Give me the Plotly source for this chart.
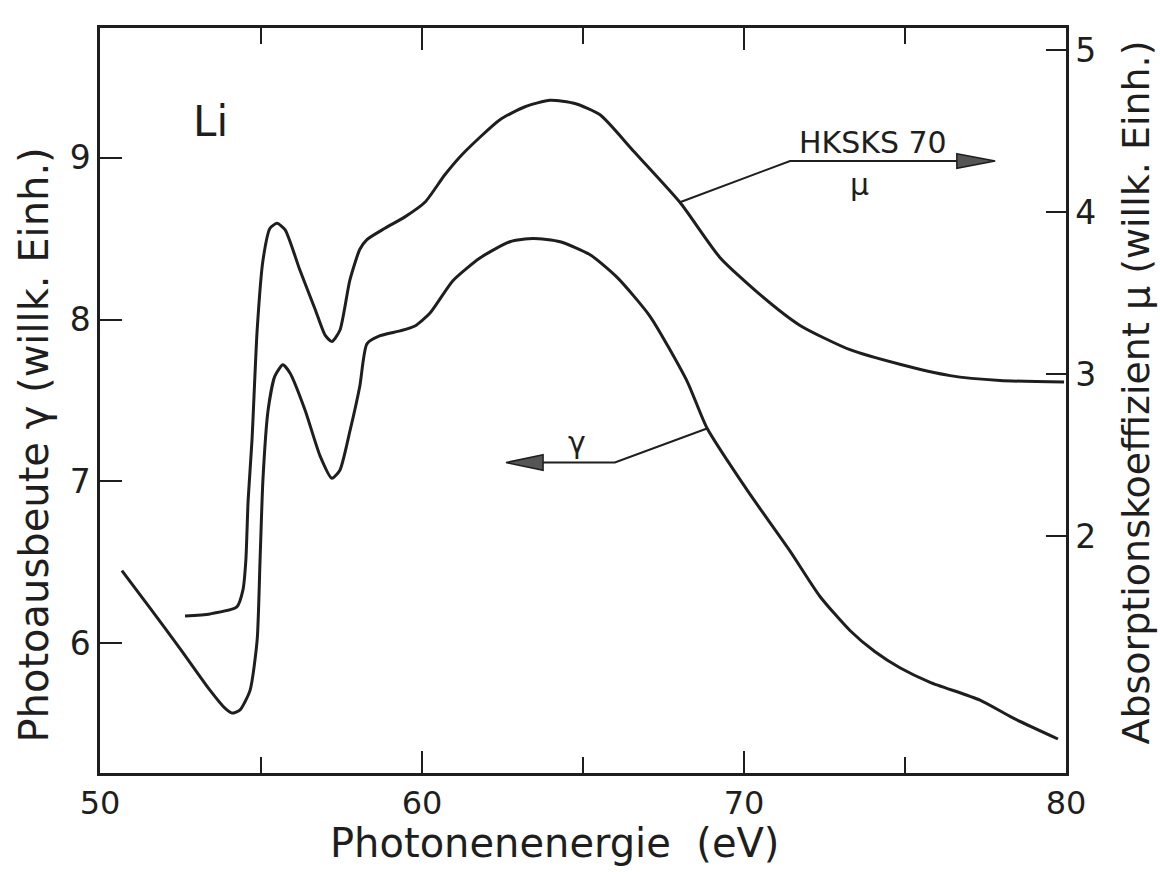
import plotly.graph_objects as go

# --- data ---
# Absorption coefficient mu (HKSKS 70), right axis
mu_energy = [52.64, 53.42, 54.25, 54.44, 54.53, 54.60, 54.72, 54.88, 55.06, 55.28, 55.50,
             55.75, 56.21, 56.68, 56.99, 57.20, 57.45, 57.76, 58.07, 58.29, 58.85, 59.47,
             60.09, 60.71, 61.27, 62.42, 63.20, 63.98, 64.75, 65.53, 66.55, 68.01, 69.25,
             70.50, 71.74, 73.29, 74.84, 76.40, 77.95, 79.94]
mu_values = [1.506, 1.519, 1.562, 1.667, 1.852, 2.22, 2.59, 3.27, 3.70, 3.90, 3.93,
             3.89, 3.64, 3.40, 3.24, 3.20, 3.27, 3.58, 3.77, 3.83, 3.90, 3.97,
             4.06, 4.23, 4.36, 4.57, 4.65, 4.69, 4.67, 4.60, 4.38, 4.06, 3.72,
             3.49, 3.30, 3.15, 3.06, 2.99, 2.96, 2.95]

# Photo yield gamma, left axis
gamma_energy = [50.68, 51.55, 52.48, 53.42, 53.88, 54.10, 54.35, 54.66, 54.88, 54.97, 55.06,
                55.22, 55.43, 55.68, 55.90, 56.37, 56.83, 57.20, 57.45, 57.76, 58.07, 58.29,
                58.70, 59.32, 59.78, 60.25, 60.96, 61.80, 62.73, 63.45, 64.29, 65.22, 66.06,
                67.08, 68.23, 68.85, 70.12, 71.43, 72.36, 73.29, 74.06, 74.84, 75.78, 77.33,
                78.35, 79.75]
gamma_values = [6.45, 6.22, 5.97, 5.71, 5.60, 5.57, 5.59, 5.71, 6.02, 6.51, 7.01,
                7.44, 7.65, 7.72, 7.67, 7.44, 7.16, 7.02, 7.07, 7.31, 7.59, 7.85,
                7.90, 7.93, 7.96, 8.04, 8.24, 8.38, 8.48, 8.50, 8.48, 8.40, 8.26,
                8.02, 7.62, 7.33, 6.94, 6.57, 6.29, 6.08, 5.95, 5.85, 5.76, 5.65,
                5.54, 5.41]

x_range = [50, 80]
gamma_range = [5.2, 9.8]
mu_range = [0.537, 5.136]
x_tickvals = [50, 60, 70, 80]
gamma_tickvals = [6, 7, 8, 9]
mu_tickvals = [2, 3, 4, 5]

# annotation arrows (data coordinates)
mu_arrow_x = [68.01, 71.43, 76.61]
mu_arrow_y = [4.06, 4.315, 4.315]
mu_head_x = [76.61, 77.80]
mu_head_h = 0.045
gamma_arrow_x = [68.85, 65.99, 63.76]
gamma_arrow_y = [7.327, 7.117, 7.117]
gamma_head_x = [63.76, 62.61]
gamma_head_h = 0.048

FONT = "DejaVu Sans"
INK = "#1e1e1e"

fig = go.Figure()
fig.add_trace(go.Scatter(x=gamma_energy, y=gamma_values, mode="lines",
                         line=dict(color=INK, width=3, shape="spline", smoothing=0.6),
                         yaxis="y", showlegend=False, hoverinfo="skip"))
fig.add_trace(go.Scatter(x=mu_energy, y=mu_values, mode="lines",
                         line=dict(color=INK, width=3, shape="spline", smoothing=0.6),
                         yaxis="y2", showlegend=False, hoverinfo="skip"))

# arrow lines
fig.add_trace(go.Scatter(x=mu_arrow_x, y=mu_arrow_y, mode="lines",
                         line=dict(color=INK, width=2), yaxis="y2",
                         showlegend=False, hoverinfo="skip"))
fig.add_trace(go.Scatter(x=gamma_arrow_x, y=gamma_arrow_y, mode="lines",
                         line=dict(color=INK, width=2), yaxis="y",
                         showlegend=False, hoverinfo="skip"))
# arrow heads
fig.add_shape(type="path", xref="x", yref="y2",
              path=f"M {mu_head_x[0]},{mu_arrow_y[-1]+mu_head_h} L {mu_head_x[1]},{mu_arrow_y[-1]} "
                   f"L {mu_head_x[0]},{mu_arrow_y[-1]-mu_head_h} Z",
              fillcolor="#555555", line=dict(color=INK, width=1.5))
fig.add_shape(type="path", xref="x", yref="y",
              path=f"M {gamma_head_x[0]},{gamma_arrow_y[-1]+gamma_head_h} L {gamma_head_x[1]},{gamma_arrow_y[-1]} "
                   f"L {gamma_head_x[0]},{gamma_arrow_y[-1]-gamma_head_h} Z",
              fillcolor="#555555", line=dict(color=INK, width=1.5))

ann = [
    dict(x=53.42, y=9.22, xref="x", yref="y", text="Li", showarrow=False,
         xanchor="center", yanchor="middle",
         font=dict(size=42, color=INK, family=FONT)),
    dict(x=74.0, y=4.43, xref="x", yref="y2", text="HKSKS 70", showarrow=False,
         xanchor="center", yanchor="middle",
         font=dict(size=30, color=INK, family=FONT)),
    dict(x=73.6, y=4.17, xref="x", yref="y2", text="μ", showarrow=False,
         xanchor="center", yanchor="middle",
         font=dict(size=30, color=INK, family=FONT)),
    dict(x=64.81, y=7.24, xref="x", yref="y", text="γ", showarrow=False,
         xanchor="center", yanchor="middle",
         font=dict(size=30, color=INK, family=FONT)),
    dict(x=0.471, y=-0.094, xref="paper", yref="paper", text="Photonenenergie  (eV)",
         showarrow=False, xanchor="center", yanchor="middle",
         font=dict(size=40, color=INK, family=FONT)),
    dict(x=-0.068, y=0.44, xref="paper", yref="paper", text="Photoausbeute γ (willk. Einh.)",
         showarrow=False, textangle=-90, xanchor="center", yanchor="middle",
         font=dict(size=40, color=INK, family=FONT)),
    dict(x=1.073, y=0.51, xref="paper", yref="paper", text="Absorptionskoeffizient μ (willk. Einh.)",
         showarrow=False, textangle=-90, xanchor="center", yanchor="middle",
         font=dict(size=38, color=INK, family=FONT)),
]

fig.update_layout(
    width=1160, height=872,
    margin=dict(l=100, r=94, t=28, b=99),
    paper_bgcolor="white", plot_bgcolor="white",
    annotations=ann,
    xaxis=dict(range=x_range, tickvals=x_tickvals, ticks="inside", ticklen=22, tickwidth=2,
               tickcolor=INK, showline=True, linecolor=INK, linewidth=2.5, mirror="ticks",
               showgrid=False, zeroline=False,
               minor=dict(dtick=5, tick0=50, ticks="inside", ticklen=16, tickwidth=2, tickcolor=INK),
               tickfont=dict(size=32, color=INK, family=FONT)),
    yaxis=dict(range=gamma_range, tickvals=gamma_tickvals, ticks="inside", ticklen=22, tickwidth=2,
               tickcolor=INK, showline=True, linecolor=INK, linewidth=2.5,
               showgrid=False, zeroline=False,
               tickfont=dict(size=33, color=INK, family=FONT)),
    yaxis2=dict(range=mu_range, tickvals=mu_tickvals, ticks="inside", ticklen=20, tickwidth=2,
                tickcolor=INK, showline=True, linecolor=INK, linewidth=2.5,
                overlaying="y", side="right", showgrid=False, zeroline=False,
                tickfont=dict(size=33, color=INK, family=FONT)),
)

fig.write_html("out.html")
